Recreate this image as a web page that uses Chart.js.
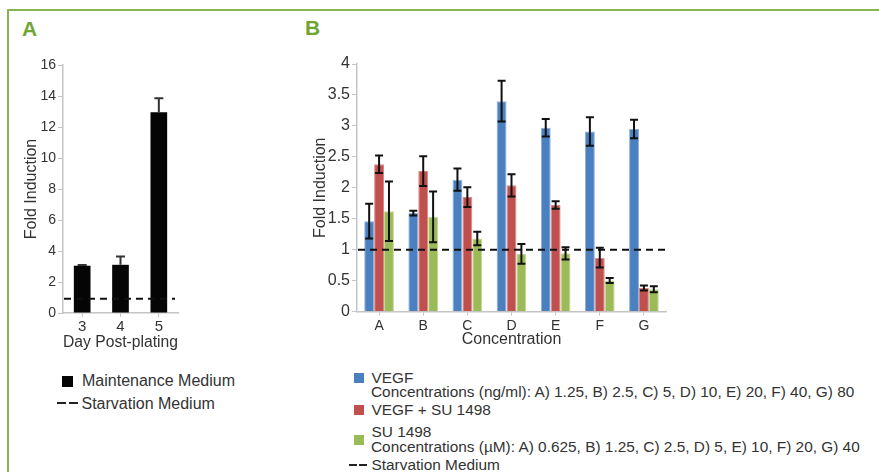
<!DOCTYPE html>
<html>
<head>
<meta charset="utf-8">
<script src="https://cdn.jsdelivr.net/npm/chart.js@4.4.1/dist/chart.umd.min.js"></script>
<style>
  html, body { margin: 0; padding: 0; background: #fff; }
  body { width: 879px; height: 472px; position: relative; overflow: hidden; font-family: 'Liberation Sans', Arial, sans-serif; color: #333; }
  .frame { position: absolute; left: 7px; top: 9px; width: 900px; height: 500px; border-left: 2px solid #86b552; border-top: 2px solid #86b552; }
  .panel-letter { position: absolute; font-weight: bold; font-size: 21px; line-height: 21px; color: #6ea534; }
  canvas { position: absolute; top: 0; }
  .lg { position: absolute; white-space: nowrap; }
  .sw { position: absolute; }
</style>
</head>
<body>
<div class="frame"></div>
<div class="panel-letter" style="left:22px;top:18px">A</div>
<div class="panel-letter" style="left:305px;top:17px">B</div>
<canvas id="chartA" width="200" height="360" style="left:0"></canvas>
<canvas id="chartB" width="400" height="360" style="left:290px"></canvas>
<div id="legendA"></div>
<div id="legendB"></div>

<script>
// Panel A - fold induction by day post-plating
const dayLabels = ['3', '4', '5'];
const maintenanceValues = [3.05, 3.11, 12.95];
const maintenanceErrors = [0.05, 0.54, 0.9];
const starvationA = 0.92;

// Panel B - fold induction by concentration
const concLabels = ['A', 'B', 'C', 'D', 'E', 'F', 'G'];
const vegfValues = [1.46, 1.59, 2.13, 3.40, 2.97, 2.91, 2.95];
const vegfErrors = [0.28, 0.04, 0.18, 0.33, 0.14, 0.23, 0.15];
const vegfSuValues = [2.38, 2.27, 1.85, 2.04, 1.72, 0.87, 0.38];
const vegfSuErrors = [0.14, 0.24, 0.16, 0.18, 0.06, 0.16, 0.04];
const suValues = [1.62, 1.53, 1.18, 0.93, 0.94, 0.50, 0.36];
const suErrors = [0.48, 0.41, 0.11, 0.16, 0.10, 0.04, 0.05];
const starvationB = 1.0;

const seriesNamesB = ['VEGF', 'VEGF + SU 1498', 'SU 1498'];
const seriesColorsB = ['#4a7fc0', '#c0504d', '#9bbb59'];
const seriesEdgesB = ['#8fb0d8', '#d98a88', '#c3d79c'];

Chart.defaults.font.family = "'Liberation Sans', Arial, sans-serif";
Chart.defaults.color = '#333';

const axisGray = '#c4c4c4';

// error bars + starvation dashed line
const extrasPlugin = {
  id: 'extras',
  afterDatasetsDraw(chart, args, opts) {
    const ctx = chart.ctx;
    const y = chart.scales.y;
    const area = chart.chartArea;
    ctx.save();
    // dashed line
    const ly = y.getPixelForValue(opts.level);
    ctx.strokeStyle = '#111';
    ctx.lineWidth = 2;
    ctx.setLineDash([7, 5]);
    ctx.beginPath();
    ctx.moveTo(area.left + 1, ly);
    ctx.lineTo(area.right + opts.lineExtra, ly);
    ctx.stroke();
    ctx.setLineDash([]);
    // error bars
    chart.data.datasets.forEach((ds, di) => {
      const meta = chart.getDatasetMeta(di);
      meta.data.forEach((bar, i) => {
        const v = ds.data[i], e = ds.errors[i];
        const top = y.getPixelForValue(v + e);
        const bot = opts.upOnly ? y.getPixelForValue(v) : y.getPixelForValue(v - e);
        const hw = opts.cap / 2;
        ctx.strokeStyle = opts.color;
        ctx.lineWidth = opts.width;
        ctx.beginPath();
        ctx.moveTo(bar.x, top); ctx.lineTo(bar.x, bot);
        ctx.moveTo(bar.x - hw, top); ctx.lineTo(bar.x + hw, top);
        if (!opts.upOnly) { ctx.moveTo(bar.x - hw, bot); ctx.lineTo(bar.x + hw, bot); }
        ctx.stroke();
      });
    });
    ctx.restore();
  }
};

function axisX(title, tickSize, pad, h) {
  return {
    grid: { display: true, drawOnChartArea: false, drawTicks: true, tickLength: 4, color: axisGray, offset: false },
    border: { color: axisGray, width: 1.5 },
    ticks: { font: { size: tickSize }, color: '#333', padding: pad },
    title: { display: true, text: title, font: { size: 16 }, color: '#333', padding: 0 },
    afterFit: s => { s.height = h; }
  };
}

function axisY(max, step, tickSize, w) {
  return {
    min: 0, max: max,
    grid: { display: true, drawOnChartArea: false, drawTicks: true, tickLength: 5, color: axisGray },
    border: { color: axisGray, width: 1.5 },
    ticks: { stepSize: step, font: { size: tickSize }, color: '#333', padding: 2, callback: v => String(v) },
    title: { display: true, text: 'Fold Induction', font: { size: 16 }, color: '#333', padding: 0 },
    afterFit: s => { s.width = w; }
  };
}

new Chart(document.getElementById('chartA'), {
  type: 'bar',
  data: {
    labels: dayLabels,
    datasets: [{
      label: 'Maintenance Medium',
      data: maintenanceValues,
      errors: maintenanceErrors,
      backgroundColor: '#050505',
      categoryPercentage: 0.435,
      barPercentage: 1
    }]
  },
  options: {
    responsive: false,
    animation: false,
    layout: { padding: { left: 22, top: 65, right: 22, bottom: 8 } },
    plugins: {
      legend: { display: false },
      tooltip: { enabled: false },
      extras: { level: starvationA, upOnly: true, cap: 9, width: 2, color: '#333', lineExtra: -3 }
    },
    scales: {
      x: axisX('Day Post-plating', 15, 1, 39),
      y: axisY(16, 2, 14, 41)
    }
  },
  plugins: [extrasPlugin]
});

const valuesB = [vegfValues, vegfSuValues, suValues];
const errorsB = [vegfErrors, vegfSuErrors, suErrors];

new Chart(document.getElementById('chartB'), {
  type: 'bar',
  data: {
    labels: concLabels,
    datasets: seriesNamesB.map((name, i) => ({
      label: name,
      data: valuesB[i],
      errors: errorsB[i],
      backgroundColor: seriesColorsB[i],
      borderColor: seriesEdgesB[i],
      borderWidth: 1,
      borderSkipped: 'bottom',
      categoryPercentage: 0.673,
      barPercentage: 1
    }))
  },
  options: {
    responsive: false,
    animation: false,
    layout: { padding: { left: 21, top: 64, right: 24, bottom: 11 } },
    plugins: {
      legend: { display: false },
      tooltip: { enabled: false },
      extras: { level: starvationB, upOnly: false, cap: 8, width: 2, color: '#111', lineExtra: 4 }
    },
    scales: {
      x: axisX('Concentration', 14, 2, 37.5),
      y: axisY(4, 0.5, 16, 46)
    }
  },
  plugins: [extrasPlugin]
});

// HTML legends
function addText(parent, text, left, top, size) {
  const d = document.createElement('div');
  d.className = 'lg';
  d.style.left = left + 'px';
  d.style.top = top + 'px';
  d.style.fontSize = size + 'px';
  d.style.lineHeight = size + 'px';
  d.textContent = text;
  parent.appendChild(d);
}
function addBox(parent, color, left, top, w, h) {
  const d = document.createElement('div');
  d.className = 'sw';
  d.style.cssText = `left:${left}px;top:${top}px;width:${w}px;height:${h}px;background:${color}`;
  parent.appendChild(d);
}

const legA = document.getElementById('legendA');
addBox(legA, '#050505', 62, 376, 10.5, 10.5);
addText(legA, 'Maintenance Medium', 82, 373, 16);
addBox(legA, '#222', 57, 402, 8.5, 2);
addBox(legA, '#222', 69, 402, 8.5, 2);
addText(legA, 'Starvation Medium', 81.5, 395.6, 16);

const legB = document.getElementById('legendB');
const fB = 15.4;
addBox(legB, seriesColorsB[0], 354, 372.7, 10, 10);
addText(legB, seriesNamesB[0], 371.5, 370.3, fB);
addText(legB, 'Concentrations (ng/ml): A) 1.25, B) 2.5, C) 5, D) 10, E) 20, F) 40, G) 80', 371, 384, fB);
addBox(legB, seriesColorsB[1], 354, 405, 10, 10);
addText(legB, seriesNamesB[1], 371.5, 402.3, fB);
addBox(legB, seriesColorsB[2], 354, 435, 10, 10);
addText(legB, seriesNamesB[2], 371.5, 423.7, fB);
addText(legB, 'Concentrations (\u00b5M): A) 0.625, B) 1.25, C) 2.5, D) 5, E) 10, F) 20, G) 40', 371, 439, fB);
addBox(legB, '#222', 349, 464, 8, 2);
addBox(legB, '#222', 359.3, 464, 7.5, 2);
addText(legB, 'Starvation Medium', 371.5, 457.3, fB);
</script>
</body>
</html>
